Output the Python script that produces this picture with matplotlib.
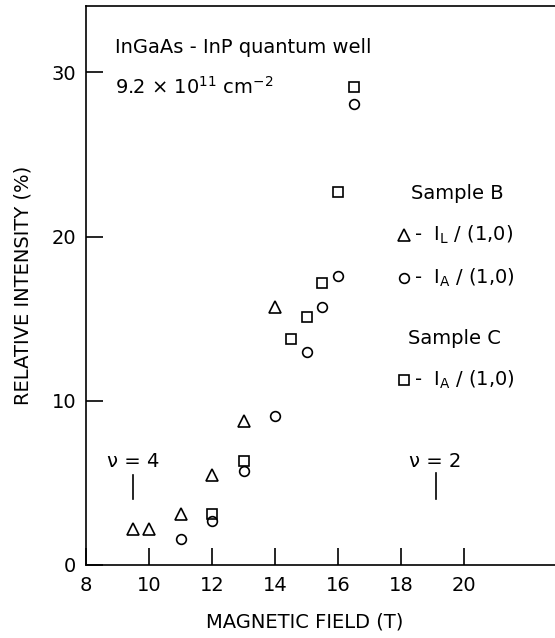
import matplotlib
matplotlib.use("Agg")
import matplotlib.pyplot as plt

# Data
b_l_field = [9.5, 10, 11, 12, 13, 14]
b_l_int = [2.2, 2.2, 3.1, 5.5, 8.8, 15.7]

b_a_field = [11, 12, 13, 14, 15, 15.5, 16, 16.5]
b_a_int = [1.6, 2.65, 5.7, 9.05, 13.0, 15.7, 17.6, 28.1]

c_a_field = [12, 13, 14.5, 15, 15.5, 16, 16.5]
c_a_int = [3.1, 6.35, 13.75, 15.1, 17.2, 22.7, 29.1]

xticks = [8, 10, 12, 14, 16, 18, 20]
yticks = [0, 10, 20, 30]

plt.rcParams['font.family'] = ['DejaVu Sans']
W, H = 555, 638
fig = plt.figure(figsize=(W / 100, H / 100), dpi=100)
left, right, top, bottom = 86, 557, 6, 565
ax = fig.add_axes([left / W, 1 - bottom / H, (right - left) / W, (bottom - top) / H])
ax.set_xlim(8, 8 + (right - left) / 31.5)
ax.set_ylim(0, (bottom - top) / 16.42)

mk = dict(linestyle='none', mfc='none', mec='black', mew=1.2)
ax.plot(b_l_field, b_l_int, marker='^', ms=8, **mk)
ax.plot(b_a_field, b_a_int, marker='o', ms=7, **mk)
ax.plot(c_a_field, c_a_int, marker='s', ms=6.5, **mk)

ax.set_xticks(xticks)
ax.set_yticks(yticks)
ax.tick_params(direction='in', length=12, width=1.2, labelsize=14, pad=7)
ax.tick_params(axis='x', pad=8)
for s in ax.spines.values():
    s.set_linewidth(1.2)

ax.set_xlabel('MAGNETIC FIELD (T)', fontsize=14)
ax.xaxis.set_label_coords((305 - left) / (right - left), -0.085)
ax.set_ylabel('RELATIVE INTENSITY (%)', fontsize=14)
ax.yaxis.set_label_coords((33 - left) / (right - left), 0.5)

fs = 14
ax.text(8.92, 31.2, 'InGaAs - InP quantum well', fontsize=fs, va='baseline', ha='left')
ax.text(8.92, 28.7, r'9.2 $\times$ 10$^{11}$ cm$^{-2}$', fontsize=fs, va='baseline', ha='left')

# filling-factor markers
ax.text(9.5, 6.3, 'ν = 4', fontsize=fs, ha='center', va='center')
ax.plot([9.5, 9.5], [4.0, 5.5], color='black', lw=1.2)
ax.text(19.1, 6.3, 'ν = 2', fontsize=fs, ha='center', va='center')
ax.plot([19.1, 19.1], [4.0, 5.6], color='black', lw=1.2)

# legend-like annotations
ax.text(19.78, 22.65, 'Sample B', fontsize=fs, ha='center', va='center')
ax.plot([18.1], [20.1], marker='^', ms=8, **mk)
ax.text(18.4, 20.1, r'-  I$_{\rm L}$ / (1,0)', fontsize=fs, ha='left', va='center')
ax.plot([18.1], [17.5], marker='o', ms=7, **mk)
ax.text(18.4, 17.5, r'-  I$_{\rm A}$ / (1,0)', fontsize=fs, ha='left', va='center')
ax.text(19.7, 13.8, 'Sample C', fontsize=fs, ha='center', va='center')
ax.plot([18.1], [11.27], marker='s', ms=6.5, **mk)
ax.text(18.4, 11.27, r'-  I$_{\rm A}$ / (1,0)', fontsize=fs, ha='left', va='center')

fig.savefig('out.png', dpi=100)
